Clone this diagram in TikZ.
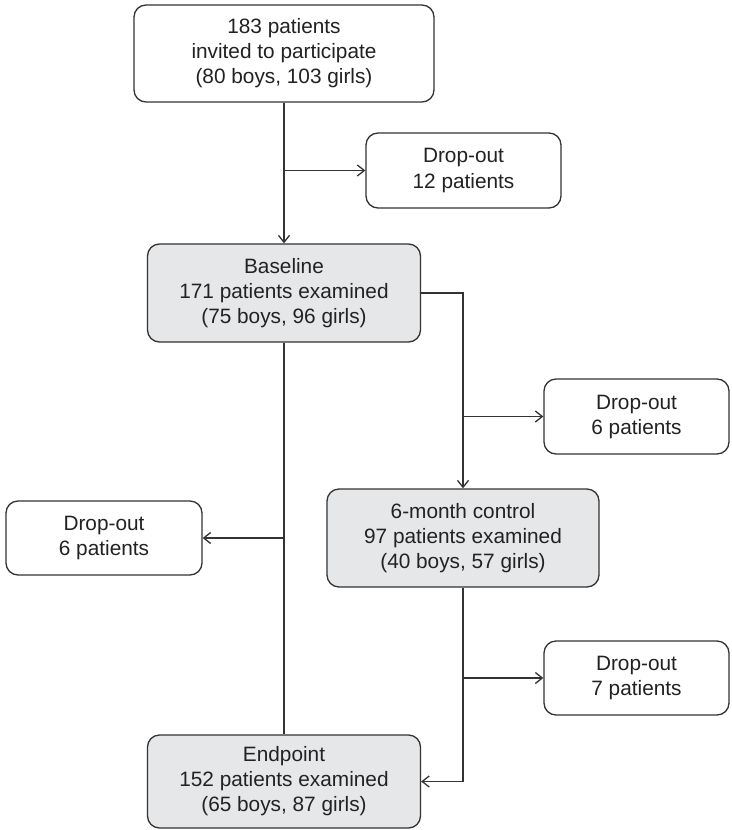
\documentclass[tikz,border=0pt]{standalone}
\usepackage{fontspec}
\setmainfont{Liberation Sans}
\usetikzlibrary{arrows.meta}
\definecolor{edgecol}{HTML}{333333}
\definecolor{boxfill}{HTML}{E6E7E8}
\definecolor{txtcol}{HTML}{222222}
\begin{document}
\begin{tikzpicture}[x=1pt,y=-1pt,
  box/.style={draw=edgecol, line width=1.3pt, rounded corners=12pt, align=center,
    inner sep=0pt, font=\fontsize{20.8}{25}\selectfont, text=txtcol},
  wbox/.style={box, fill=white},
  gbox/.style={box, fill=boxfill},
  conn/.style={draw=edgecol, line width=1.3pt},
  arr/.style={conn, -{Straight Barb[length=7pt,width=11pt]}}]
\useasboundingbox (0,0) rectangle (731,830);

\node[wbox, minimum width=300pt, minimum height=97pt] (top) at (284,53.5)
  {183 patients\\invited to participate\\(80 boys, 103 girls)};
\node[wbox, minimum width=195pt, minimum height=75pt] (d12) at (463.5,170.5)
  {Drop-out\\12 patients};
\node[gbox, minimum width=273pt, minimum height=98pt] (base) at (284,293)
  {Baseline\\171 patients examined\\(75 boys, 96 girls)};
\node[wbox, minimum width=185pt, minimum height=75pt] (d6r) at (636.5,416.5)
  {Drop-out\\6 patients};
\node[gbox, minimum width=272pt, minimum height=98pt] (six) at (463,538)
  {6-month control\\97 patients examined\\(40 boys, 57 girls)};
\node[wbox, minimum width=196pt, minimum height=74pt] (d6l) at (104,538)
  {Drop-out\\6 patients};
\node[wbox, minimum width=185pt, minimum height=74pt] (d7) at (636.5,678)
  {Drop-out\\7 patients};
\node[gbox, minimum width=273pt, minimum height=93pt] (end) at (284,781.5)
  {Endpoint\\152 patients examined\\(65 boys, 87 girls)};

\draw[arr] (top.south) -- (base.north);
\draw[arr] (top.south |- d12.west) -- (d12.west);
\draw[arr] (base.east) -| (six.north);
\draw[arr] (six.north |- d6r.west) -- (d6r.west);
\draw[conn] (base.south) -- (end.north);
\draw[arr] (base.south |- d6l.east) -- (d6l.east);
\draw[arr] (six.south) |- (end.east);
\draw[arr] (six.south |- d7.west) -- (d7.west);
\end{tikzpicture}
\end{document}
